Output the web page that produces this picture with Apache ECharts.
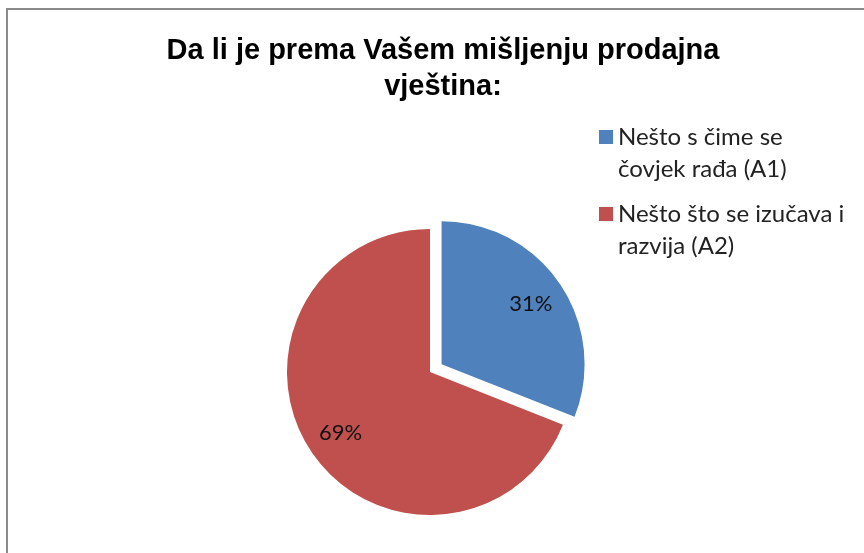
<!DOCTYPE html>
<html>
<head>
<meta charset="utf-8">
<script src="https://cdn.jsdelivr.net/npm/echarts@6/dist/echarts.min.js"></script>
<style>
  html, body { margin: 0; padding: 0; background: #fff; }
  #main { width: 864px; height: 553px; }
</style>
</head>
<body>
<div id="main"></div>
<script>
var chartDom = document.getElementById('main');
var myChart = echarts.init(chartDom);
var option;

// data
var categories = ['Nešto s čime se čovjek rađa (A1)', 'Nešto što se izučava i razvija (A2)'];
var legendText = ['Nešto s čime se\nčovjek rađa (A1)', 'Nešto što se izučava i\nrazvija (A2)'];
var values = [31, 69];
var colors = ['#4f81bd', '#c0504d'];

var pieData = [];
var labelData = [];
for (var i = 0; i < categories.length; i++) {
  pieData.push({ name: categories[i], value: values[i], selected: i === 0, itemStyle: { color: colors[i] } });
  labelData.push({ name: categories[i], value: values[i], selected: i === 0 });
}

option = {
  backgroundColor: '#fff',
  animation: false,
  title: {
    text: 'Da li je prema Vašem mišljenju prodajna\nvještina:',
    left: 443,
    top: 33,
    padding: 0,
    textAlign: 'center',
    textStyle: {
      fontFamily: 'Liberation Sans',
      fontWeight: 'bold',
      fontSize: 29,
      lineHeight: 36,
      color: '#000'
    }
  },
  legend: {
    orient: 'vertical',
    left: 599,
    top: 89,
    padding: 0,
    itemWidth: 14,
    itemHeight: 14,
    itemGap: -19,
    icon: 'rect',
    selectedMode: false,
    data: categories,
    // leading blank line keeps the first text line level with the square
    formatter: function (name) {
      return '\n' + legendText[categories.indexOf(name)];
    },
    textStyle: {
      fontFamily: 'Lato',
      fontSize: 24,
      lineHeight: 32,
      color: '#222'
    }
  },
  graphic: [
    {
      type: 'rect',
      silent: true,
      shape: { x: 7, y: 9, width: 900, height: 600 },
      style: { fill: 'none', stroke: '#8a8a8a', lineWidth: 2 }
    }
  ],
  series: [
    {
      type: 'pie',
      center: [430, 372],
      radius: [0, 143],
      startAngle: 90,
      clockwise: true,
      selectedMode: 'single',
      selectedOffset: 14,
      label: { show: false },
      labelLine: { show: false },
      emphasis: { disabled: true },
      data: pieData
    },
    {
      // transparent copy, only to place the percent labels further out
      type: 'pie',
      center: [430, 372],
      radius: [0, 210],
      startAngle: 90,
      clockwise: true,
      silent: true,
      selectedMode: 'single',
      selectedOffset: 14,
      itemStyle: { color: 'rgba(0,0,0,0)' },
      label: {
        show: true,
        position: 'inside',
        formatter: '{d}%',
        fontFamily: 'Lato',
        fontSize: 22,
        color: '#111'
      },
      labelLine: { show: false },
      emphasis: { disabled: true },
      data: labelData
    }
  ]
};

option && myChart.setOption(option);
</script>
</body>
</html>
